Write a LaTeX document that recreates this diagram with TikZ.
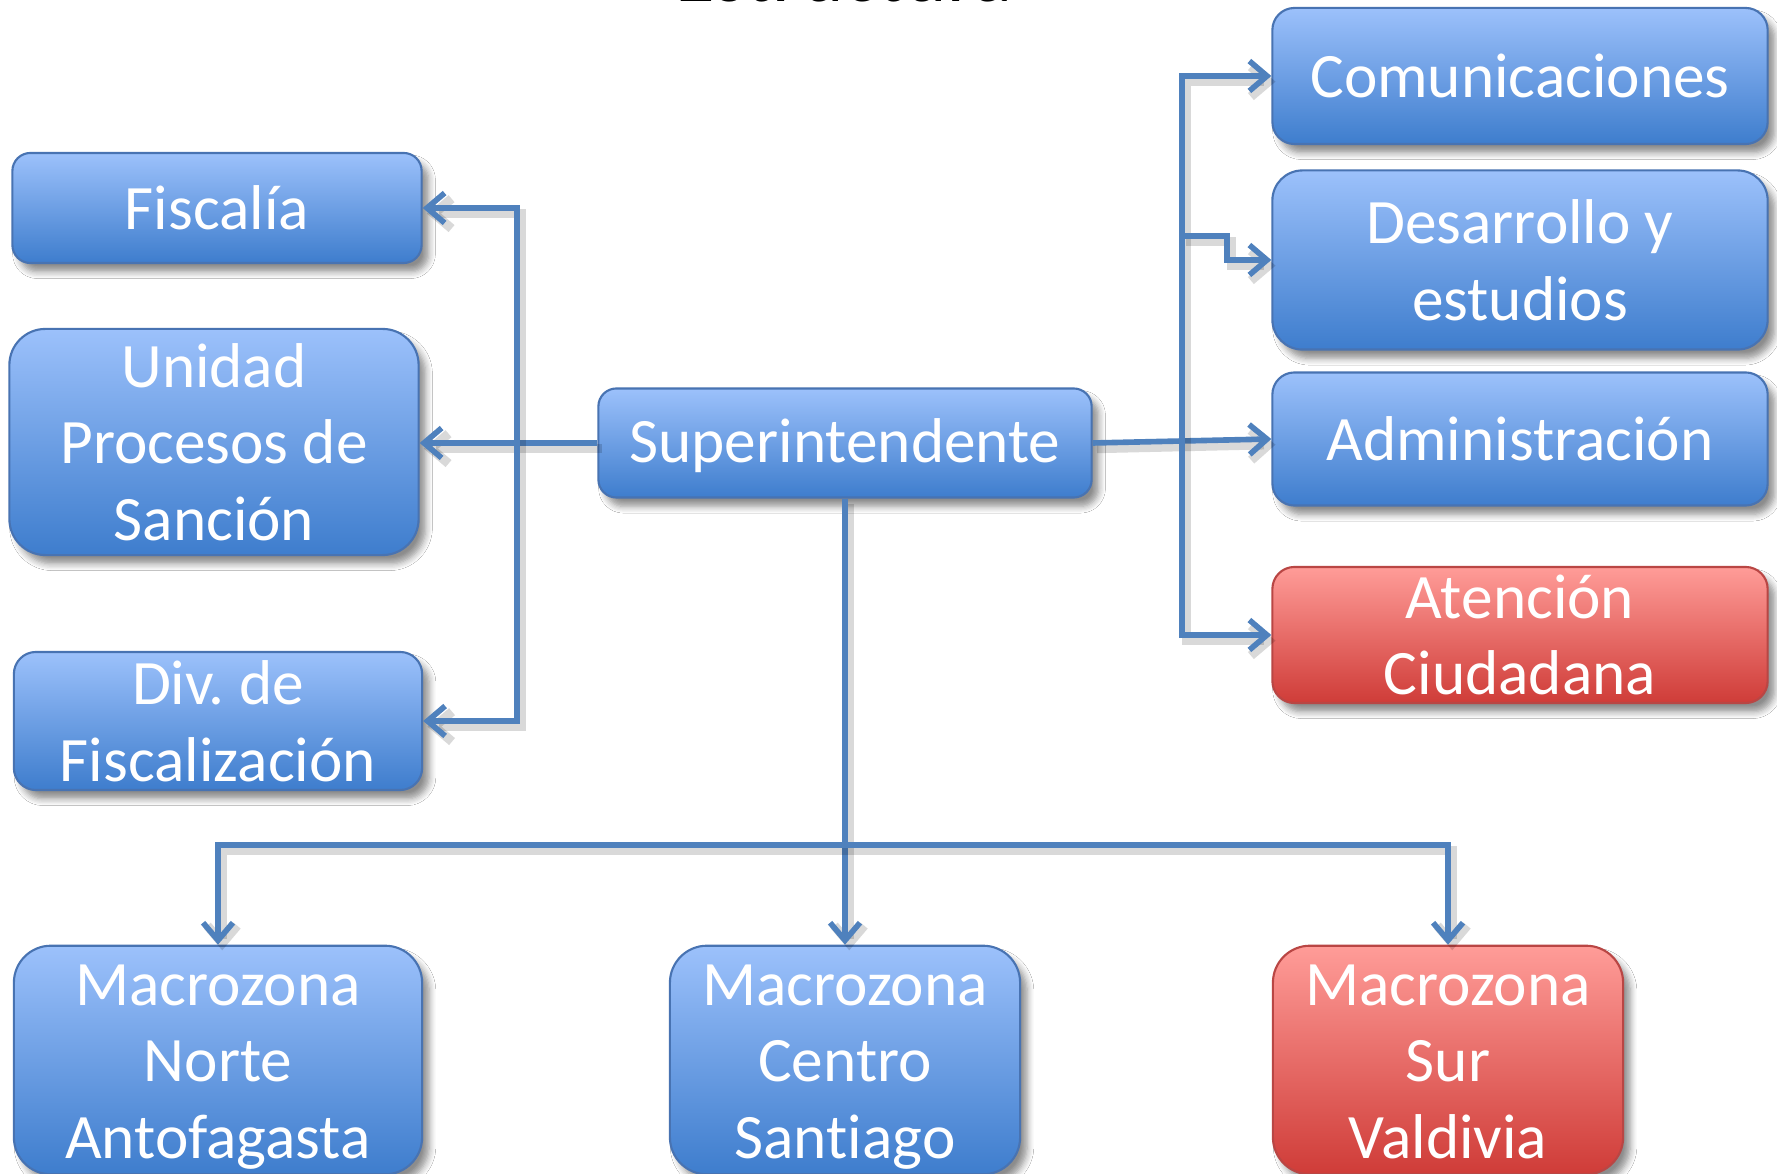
\documentclass[tikz,border=0pt]{standalone}
\usepackage{fontspec}
\setmainfont{Carlito}[Ligatures=NoCommon]
\frenchspacing
\usetikzlibrary{arrows.meta,shadows.blur,calc}
\definecolor{btop}{RGB}{156,193,251}
\definecolor{bbot}{RGB}{62,125,205}
\definecolor{bdraw}{RGB}{72,115,178}
\definecolor{rtop}{RGB}{255,156,152}
\definecolor{rbot}{RGB}{207,60,56}
\definecolor{rdraw}{RGB}{185,70,68}
\definecolor{lineblue}{RGB}{79,129,189}
\tikzset{
  boxbase/.style={rounded corners=#1, inner sep=0pt, align=center, text=white,
    font=\fontsize{18}{21.8}\selectfont, line width=0.6pt,
    blur shadow={shadow xshift=2pt, shadow yshift=-2.5pt, shadow blur steps=6, shadow opacity=45}},
  bluebox/.style={boxbase=#1, draw=bdraw, top color=btop, bottom color=bbot},
  redbox/.style={boxbase=#1, draw=rdraw, top color=rtop, bottom color=rbot},
  zonetext/.style={text height=60.5pt, text depth=4.5pt},
  conn/.style={draw=lineblue, line width=1.6pt,
    preaction={draw=black, opacity=0.15, line width=2.6pt, transform canvas={xshift=1.2pt,yshift=-1.6pt}}},
  arr/.style={conn, -{Straight Barb[length=5pt,width=8.5pt]}}
}
\begin{document}
\begin{tikzpicture}[x=0.01cm,y=-0.01cm]
\clip (0,0) rectangle (1777,1174);
\fill[white] (0,0) rectangle (1777,1174);
\node[anchor=base, font=\fontsize{23}{28}\selectfont] (title) at (844,2) {Estructura};
% left column
\node[bluebox=0.18cm, minimum width=4.09cm, minimum height=1.10cm] (fis) at (217,208) {Fiscalía};
\node[bluebox=0.36cm, minimum width=4.09cm, minimum height=2.26cm] (upds) at (214,442) {Unidad\\Procesos de\\Sanción};
\node[bluebox=0.22cm, minimum width=4.08cm, minimum height=1.38cm] (div) at (218,721) {Div. de\\Fiscalización};
% centre
\node[bluebox=0.18cm, minimum width=4.93cm, minimum height=1.09cm, text depth=1.5pt] (sup) at (845,443) {Superintendente};
% right column
\node[bluebox=0.22cm, minimum width=4.95cm, minimum height=1.36cm] (comm) at (1520,76) {Comunicaciones};
\node[bluebox=0.30cm, minimum width=4.95cm, minimum height=1.79cm] (des) at (1520,260) {Desarrollo y\\estudios};
\node[bluebox=0.22cm, minimum width=4.95cm, minimum height=1.33cm] (adm) at (1520,439) {Administración};
\node[redbox=0.22cm, minimum width=4.95cm, minimum height=1.36cm] (aten) at (1520,635) {Atención\\Ciudadana};
% bottom row
\node[bluebox=0.37cm, zonetext, minimum width=4.08cm, minimum height=2.23cm] (nor) at (218,1060) {Macrozona\\Norte\\Antofagasta};
\node[bluebox=0.37cm, zonetext, minimum width=3.50cm, minimum height=2.23cm] (cen) at (845,1060) {Macrozona\\Centro\\Santiago};
\node[redbox=0.37cm, zonetext, minimum width=3.50cm, minimum height=2.23cm] (sur) at (1448,1060) {Macrozona\\Sur\\Valdivia};
% junctions
\coordinate (lt) at (517,442);
\coordinate (rt) at (1182,441);
\coordinate (dj) at (1182,236);
\coordinate (dk) at (1227,236);
\coordinate (bus) at (845,845);
% connectors
\draw[arr] (sup.west) -- (sup.west -| upds.east);
\draw[arr] (lt) |- (fis.east);
\draw[arr] (lt) |- (div.east);
\draw[arr] (sup.east) -- (adm.west);
\draw[arr] (rt) |- (comm.west);
\draw[arr] (rt) |- (aten.west);
\draw[arr] (dj) -- (dk) |- (des.west);
\draw[arr] (sup.south) -- (cen.north);
\draw[arr] (bus) -| (nor.north);
\draw[arr] (bus) -| (sur.north);
\end{tikzpicture}
\end{document}
